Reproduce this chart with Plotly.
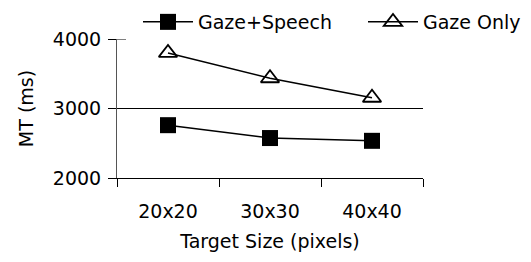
import plotly.graph_objects as go

categories = ["20x20", "30x30", "40x40"]
gaze_speech = [2760, 2575, 2535]
gaze_only = [3800, 3435, 3155]
y_ticks = [2000, 3000, 4000]

FONT = "DejaVu Sans"
PLOT_W = 531 - 117 - 108

fig = go.Figure()
fig.add_trace(go.Scatter(
    x=categories, y=gaze_speech, name="Gaze+Speech", mode="lines+markers",
    line=dict(color="black", width=1.5),
    marker=dict(symbol="square", size=16, color="black", line=dict(width=0)),
    legend="legend",
))
fig.add_trace(go.Scatter(
    x=categories, y=gaze_only, name="Gaze Only", mode="lines+markers",
    line=dict(color="black", width=1.5),
    marker=dict(symbol="triangle-up-open", size=16, color="black", line=dict(width=1.8, color="black")),
    legend="legend2",
))

# single gridline at 3000
fig.add_shape(type="line", xref="paper", yref="y", x0=0, x1=1, y0=3000, y1=3000,
              line=dict(color="black", width=1), layer="below")
# tick crossing the axis at the top value
fig.add_shape(type="line", xref="paper", yref="y", x0=0, x1=9 / PLOT_W, y0=4000, y1=4000,
              line=dict(color="black", width=1), layer="below")

legend_common = dict(orientation="h", xref="container", yref="container",
                     xanchor="left", yanchor="middle", y=0.916,
                     bgcolor="rgba(0,0,0,0)", font=dict(family=FONT, size=19, color="black"),
                     itemwidth=50, borderwidth=0)

fig.update_layout(
    width=531, height=262,
    margin=dict(l=117, r=108, t=39, b=84, autoexpand=False),
    paper_bgcolor="white", plot_bgcolor="white",
    font=dict(family=FONT, size=19, color="black"),
    showlegend=True,
    legend=dict(x=138 / 531, **legend_common),
    legend2=dict(x=363 / 531, **legend_common),
    xaxis=dict(
        type="category", range=[-0.5, 2.5], tickson="boundaries",
        ticks="outside", ticklen=8, tickcolor="black", tickwidth=1,
        showline=True, linecolor="black", linewidth=1, showgrid=False,
        ticklabelstandoff=16, automargin=False,
        title=dict(text="Target Size (pixels)", standoff=13, font=dict(size=19)),
        tickfont=dict(size=19),
    ),
    yaxis=dict(
        range=[2000, 4000], tickvals=y_ticks, ticks="outside", ticklen=8,
        tickcolor="black", tickwidth=1, showline=True, linecolor="#555", linewidth=1,
        showgrid=False, zeroline=False, ticklabelstandoff=3, automargin=False,
        title=dict(text="MT (ms)", standoff=14, font=dict(size=19)),
        tickfont=dict(size=19),
    ),
)

fig.write_html("out.html", config={"displayModeBar": False},
               post_script="document.body.style.margin='0';")
